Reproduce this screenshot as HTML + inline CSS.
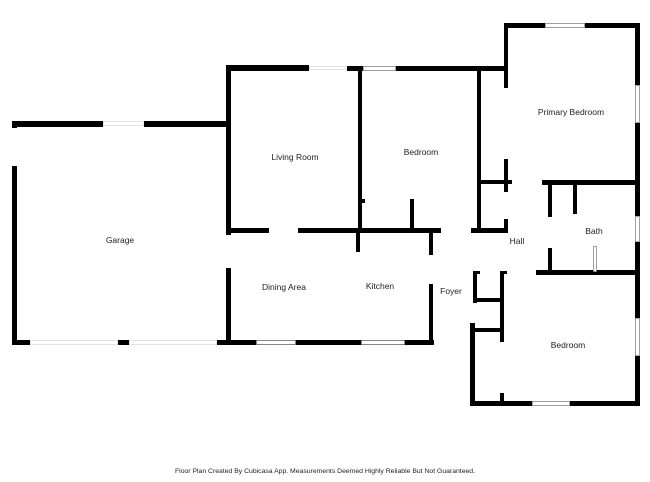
<!DOCTYPE html>
<html><head><meta charset="utf-8"><style>
html,body{margin:0;padding:0;background:#fff;}
svg{display:block;}
text{font-family:"Liberation Sans",sans-serif;font-size:8.5px;fill:#222;}
</style></head><body>
<svg width="650" height="482" viewBox="0 0 650 482" xmlns="http://www.w3.org/2000/svg">
<g fill="#000">
<!-- Garage -->
<rect x="12" y="121" width="91" height="6"/>
<rect x="144" y="121" width="87" height="6"/>
<rect x="12" y="121" width="5" height="7"/>
<rect x="12" y="166" width="5" height="179"/>
<rect x="12" y="340" width="18" height="5"/>
<rect x="118" y="340" width="11" height="5"/>
<rect x="217" y="340" width="217" height="5"/>
<!-- Living room -->
<rect x="226" y="65" width="83" height="6"/>
<rect x="347" y="66" width="16" height="5"/>
<rect x="396" y="66" width="112" height="5"/>
<rect x="226" y="65" width="5" height="170"/>
<rect x="226" y="268" width="5" height="77"/>
<rect x="231" y="228" width="38" height="5"/>
<rect x="298" y="228" width="143" height="5"/>
<!-- Bedroom -->
<rect x="358" y="66" width="4" height="167"/>
<rect x="362" y="199" width="3" height="4"/>
<rect x="410" y="199" width="4" height="34"/>
<rect x="356" y="230" width="4" height="22"/>
<rect x="429" y="230" width="4" height="25"/>
<rect x="429" y="284" width="4" height="61"/>
<rect x="477" y="71" width="4" height="162"/>
<rect x="471" y="228" width="36" height="5"/>
<rect x="477" y="180" width="35" height="4"/>
<rect x="504" y="66" width="4" height="22"/>
<rect x="504" y="159" width="4" height="33"/>
<rect x="504" y="219" width="4" height="14"/>
<!-- Primary bedroom -->
<rect x="504" y="23" width="4" height="45"/>
<rect x="504" y="23" width="41" height="5"/>
<rect x="585" y="23" width="55" height="5"/>
<rect x="635" y="23" width="5" height="62"/>
<rect x="635" y="123" width="5" height="93"/>
<rect x="635" y="242" width="5" height="76"/>
<rect x="635" y="356" width="5" height="50"/>
<rect x="542" y="180" width="98" height="5"/>
<rect x="548" y="180" width="4" height="37"/>
<rect x="573" y="180" width="4" height="34"/>
<rect x="548" y="248" width="4" height="24"/>
<rect x="536" y="270" width="104" height="5"/>
<!-- Lower bedroom -->
<rect x="473" y="271" width="4" height="32"/>
<rect x="500" y="271" width="4" height="71"/>
<rect x="473" y="271" width="7" height="3"/>
<rect x="500" y="271" width="7" height="3"/>
<rect x="473" y="298" width="31" height="4"/>
<rect x="473" y="328" width="31" height="4"/>
<rect x="470" y="323" width="5" height="83"/>
<rect x="500" y="393" width="4" height="12"/>
<rect x="470" y="401" width="62" height="5"/>
<rect x="570" y="401" width="70" height="5"/>
</g>
<!-- windows -->
<g fill="#fff" stroke="#888" stroke-width="0.8">
<rect x="363.5" y="66.5" width="32" height="4"/>
<rect x="545.5" y="23.5" width="39" height="4"/>
<rect x="635.5" y="85.5" width="4" height="37"/>
<rect x="635.5" y="216.5" width="4" height="25"/>
<rect x="635.5" y="318.5" width="4" height="37"/>
<rect x="532.5" y="401.5" width="37" height="4"/>
<rect x="256.5" y="340.5" width="39" height="4"/>
<rect x="361.5" y="340.5" width="43" height="4"/>
<rect x="593.5" y="246.5" width="3" height="25"/>
</g>
<g fill="none" stroke="#e4e4e4" stroke-width="1">
<rect x="309.5" y="66.5" width="37" height="3"/>
<rect x="103.5" y="121.5" width="40" height="4"/>
<rect x="30.5" y="340.5" width="87" height="4"/>
<rect x="129.5" y="340.5" width="87" height="4"/>
</g>
<text x="120" y="243" text-anchor="middle">Garage</text>
<text x="295" y="160" text-anchor="middle">Living Room</text>
<text x="421" y="155" text-anchor="middle">Bedroom</text>
<text x="571" y="115" text-anchor="middle">Primary Bedroom</text>
<text x="594" y="234" text-anchor="middle">Bath</text>
<text x="517" y="244" text-anchor="middle">Hall</text>
<text x="284" y="290" text-anchor="middle">Dining Area</text>
<text x="380" y="289" text-anchor="middle">Kitchen</text>
<text x="451" y="294" text-anchor="middle">Foyer</text>
<text x="568" y="348" text-anchor="middle">Bedroom</text>
<text x="175" y="473" style="font-size:6.5px" textLength="300" lengthAdjust="spacingAndGlyphs">Floor Plan Created By Cubicasa App. Measurements Deemed Highly Reliable But Not Guaranteed.</text>
</svg>
</body></html>
